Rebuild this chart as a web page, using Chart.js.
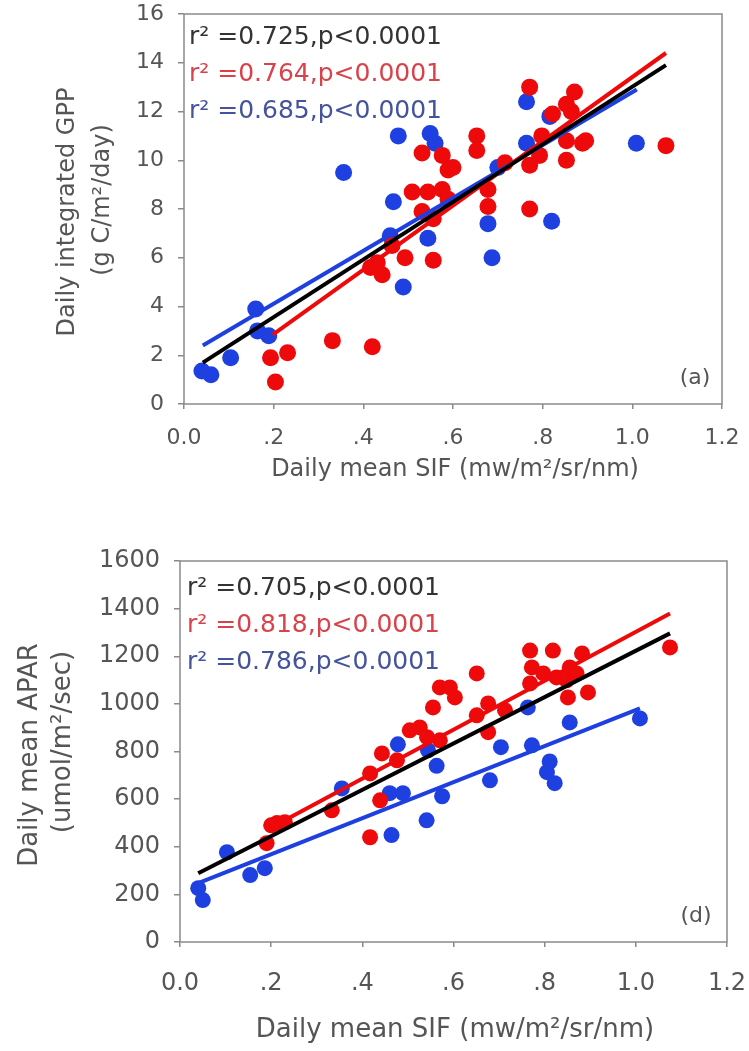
<!DOCTYPE html>
<html lang="en">
<head>
<meta charset="UTF-8">
<title>Daily mean SIF vs GPP and APAR</title>
<script src="https://cdn.jsdelivr.net/npm/chart.js@4"></script>
<style>
  body { margin: 0; background: #fff; }
  .panel { position: absolute; left: 0; width: 749px; }
  #panelA { top: 0; height: 500px; }
  #panelD { top: 500px; height: 551px; }
</style>
</head>
<body>
<div class="panel" id="panelA"><canvas id="chartA" width="749" height="500"></canvas></div>
<div class="panel" id="panelD"><canvas id="chartD" width="749" height="551"></canvas></div>

<script>
// ---- panel (a): GPP vs SIF ----
const gppRedSif = [0.193, 0.204, 0.231, 0.331, 0.42, 0.416, 0.431, 0.442, 0.464, 0.493,
  0.509, 0.531, 0.531, 0.544, 0.556, 0.556, 0.576, 0.589, 0.576, 0.589, 0.60,
  0.653, 0.653, 0.678, 0.678, 0.716, 0.771, 0.771, 0.771, 0.793, 0.798,
  0.822, 0.853, 0.864, 0.871, 0.853, 0.853, 0.889, 0.896, 1.075];
const gppRed = [1.9, 0.9, 2.1, 2.6, 2.35, 5.6, 5.8, 5.3, 6.5, 6.0,
  8.7, 10.3, 7.9, 8.7, 7.6, 5.9, 8.8, 8.4, 10.2, 9.6, 9.7,
  11.0, 10.4, 8.8, 8.1, 9.9, 13.0, 8.0, 9.8, 10.2, 11.0,
  11.9, 12.3, 12.0, 12.8, 10.8, 10.0, 10.7, 10.8, 10.6];
const gppBlueSif = [0.04, 0.06, 0.104, 0.16, 0.164, 0.189, 0.356, 0.46, 0.467, 0.478, 0.489,
  0.544, 0.549, 0.56, 0.678, 0.687, 0.70, 0.764, 0.764, 0.816, 0.82, 1.009];
const gppBlue = [1.35, 1.2, 1.9, 3.9, 3.0, 2.8, 9.5, 6.9, 8.3, 11.0, 4.8,
  6.8, 11.1, 10.7, 7.4, 6.0, 9.7, 12.4, 10.7, 11.8, 7.5, 10.7];
// fitted lines, end points
const gppFitAll = [[0.042, 1.7], [1.075, 13.9]];
const gppFitRed = [[0.198, 2.85], [1.075, 14.4]];
const gppFitBlue = [[0.042, 2.4], [1.01, 12.9]];
const gppStats = ['r\u00b2 =0.725,p<0.0001', 'r\u00b2 =0.764,p<0.0001', 'r\u00b2 =0.685,p<0.0001'];

// ---- panel (d): APAR vs SIF ----
const aparRedSif = [0.19, 0.20, 0.213, 0.23, 0.333, 0.417, 0.417, 0.439, 0.443, 0.476,
  0.504, 0.526, 0.542, 0.555, 0.57, 0.57, 0.592, 0.603, 0.651, 0.651,
  0.676, 0.676, 0.713, 0.768, 0.768, 0.772, 0.797, 0.818, 0.826, 0.848,
  0.851, 0.855, 0.87, 0.882, 0.895, 1.075];
const aparRed = [415, 490, 500, 503, 553, 708, 440, 595, 792, 763,
  889, 901, 860, 985, 1069, 847, 1069, 1027, 1128, 952,
  1002, 881, 973, 1224, 1086, 1153, 1128, 1224, 1111, 1099,
  1027, 1153, 1128, 1212, 1048, 1237];
const aparBlueSif = [0.04, 0.05, 0.103, 0.154, 0.186, 0.355, 0.464, 0.46, 0.478, 0.489,
  0.541, 0.544, 0.563, 0.575, 0.68, 0.704, 0.763, 0.772, 0.805, 0.811, 0.822, 0.855, 1.009];
const aparBlue = [226, 176, 377, 281, 310, 645, 449, 625, 830, 625,
  511, 805, 740, 612, 679, 818, 985, 826, 713, 758, 667, 922, 939];
const aparFitAll = [[0.04, 289], [1.075, 1296]];
const aparFitRed = [[0.19, 470], [1.075, 1380]];
const aparFitBlue = [[0.04, 247], [1.009, 981]];
const aparStats = ['r\u00b2 =0.705,p<0.0001', 'r\u00b2 =0.818,p<0.0001', 'r\u00b2 =0.786,p<0.0001'];

const RED = '#ee0a0a';
const BLUE = '#1e40e0';
const STAT_COLORS = ['#333333', '#d8424a', '#44539c'];
const TEXT = '#555555';
const AXIS = '#8a8a8a';

Chart.defaults.font.family = "'DejaVu Sans', sans-serif";
Chart.defaults.color = TEXT;

function toXY(xs, ys) {
  return xs.map((x, i) => ({ x: x, y: ys[i] }));
}
function fitLine(pts) {
  return pts.map(p => ({ x: p[0], y: p[1] }));
}
function sifLabel(v) {
  const r = Math.round(v * 10) / 10;
  if (r === 0) return '0.0';
  if (r < 1) return '.' + Math.round(r * 10);
  return r.toFixed(1);
}

// draws the frame, axis titles, r2 lines and panel letter
const panelText = {
  id: 'panelText',
  afterDraw(chart, args, o) {
    const ctx = chart.ctx;
    const a = chart.chartArea;
    ctx.save();
    ctx.strokeStyle = AXIS;
    ctx.lineWidth = 1.5;
    ctx.strokeRect(a.left, a.top, a.right - a.left, a.bottom - a.top);

    ctx.fillStyle = TEXT;
    ctx.textAlign = 'center';
    ctx.textBaseline = 'middle';
    ctx.font = o.titleSize + "px 'DejaVu Sans'";
    ctx.fillText(o.xTitle, o.xTitlePos[0], o.xTitlePos[1]);
    o.yTitle.forEach((t, i) => {
      ctx.save();
      ctx.translate(o.yTitleX[i], o.yTitleY[i]);
      ctx.rotate(-Math.PI / 2);
      ctx.fillText(t, 0, 0);
      ctx.restore();
    });

    ctx.textAlign = 'left';
    ctx.font = o.statSize + "px 'DejaVu Sans'";
    o.stats.forEach((t, i) => {
      ctx.fillStyle = STAT_COLORS[i];
      ctx.fillText(t, o.statX, o.statY[i]);
    });

    ctx.fillStyle = TEXT;
    ctx.textAlign = 'center';
    ctx.font = o.letterSize + "px 'DejaVu Sans'";
    ctx.fillText(o.letter, o.letterPos[0], o.letterPos[1]);
    ctx.restore();
  }
};

function makeChart(id, d) {
  new Chart(document.getElementById(id), {
    type: 'scatter',
    data: {
      datasets: [
        { data: fitLine(d.fitAll), showLine: true, borderColor: '#000', borderWidth: 4, pointRadius: 0, order: 0 },
        { data: fitLine(d.fitRed), showLine: true, borderColor: RED, borderWidth: 4, pointRadius: 0, order: 1 },
        { data: fitLine(d.fitBlue), showLine: true, borderColor: BLUE, borderWidth: 4, pointRadius: 0, order: 2 },
        { data: d.red, backgroundColor: RED, borderWidth: 0, pointRadius: d.radius, order: 3 },
        { data: d.blue, backgroundColor: BLUE, borderWidth: 0, pointRadius: d.radius, order: 4 }
      ]
    },
    options: {
      responsive: false,
      animation: false,
      events: [],
      layout: { padding: d.padding },
      plugins: {
        legend: { display: false },
        tooltip: { enabled: false },
        panelText: d.text
      },
      scales: {
        x: {
          type: 'linear', min: 0, max: 1.2,
          border: { display: false },
          grid: { drawOnChartArea: false, color: AXIS, lineWidth: 1.5, tickLength: 5 },
          ticks: { stepSize: 0.2, padding: d.xTickPad, font: { size: d.tickSize }, maxRotation: 0,
                   callback: v => sifLabel(v) },
          afterFit: s => { s.height = d.xHeight; s.paddingLeft = 0; s.paddingRight = 0; }
        },
        y: {
          min: 0, max: d.yMax,
          border: { display: false },
          grid: { drawOnChartArea: false, color: AXIS, lineWidth: 1.5, tickLength: 6 },
          ticks: { stepSize: d.yStep, padding: 14, font: { size: d.tickSize },
                   callback: v => String(v) },
          afterFit: s => { s.width = d.yWidth; s.paddingTop = 0; s.paddingBottom = 0; }
        }
      }
    },
    plugins: [panelText]
  });
}

makeChart('chartA', {
  red: toXY(gppRedSif, gppRed),
  blue: toXY(gppBlueSif, gppBlue),
  fitAll: gppFitAll, fitRed: gppFitRed, fitBlue: gppFitBlue,
  yMax: 16, yStep: 2, radius: 8.5,
  tickSize: 22, xTickPad: 16,
  padding: { top: 14, right: 27, bottom: 0, left: 0 },
  yWidth: 184, xHeight: 96,
  text: {
    xTitle: 'Daily mean SIF (mw/m\u00b2/sr/nm)', xTitlePos: [455, 470],
    yTitle: ['Daily integrated GPP', '(g C/m\u00b2/day)'], yTitleX: [68, 103], yTitleY: [212, 200],
    titleSize: 24,
    stats: gppStats, statX: 189, statY: [37, 74, 111], statSize: 25,
    letter: '(a)', letterPos: [695, 378], letterSize: 22
  }
});

makeChart('chartD', {
  red: toXY(aparRedSif, aparRed),
  blue: toXY(aparBlueSif, aparBlue),
  fitAll: aparFitAll, fitRed: aparFitRed, fitBlue: aparFitBlue,
  yMax: 1600, yStep: 200, radius: 8,
  tickSize: 24, xTickPad: 22,
  padding: { top: 61, right: 22, bottom: 0, left: 0 },
  yWidth: 180, xHeight: 109,
  text: {
    xTitle: 'Daily mean SIF (mw/m\u00b2/sr/nm)', xTitlePos: [455, 530],
    yTitle: ['Daily mean APAR', '(umol/m\u00b2/sec)'], yTitleX: [30, 63], yTitleY: [255, 242],
    titleSize: 26,
    stats: aparStats, statX: 187, statY: [88, 125, 162], statSize: 25,
    letter: '(d)', letterPos: [696, 416], letterSize: 22
  }
});
</script>
</body>
</html>
